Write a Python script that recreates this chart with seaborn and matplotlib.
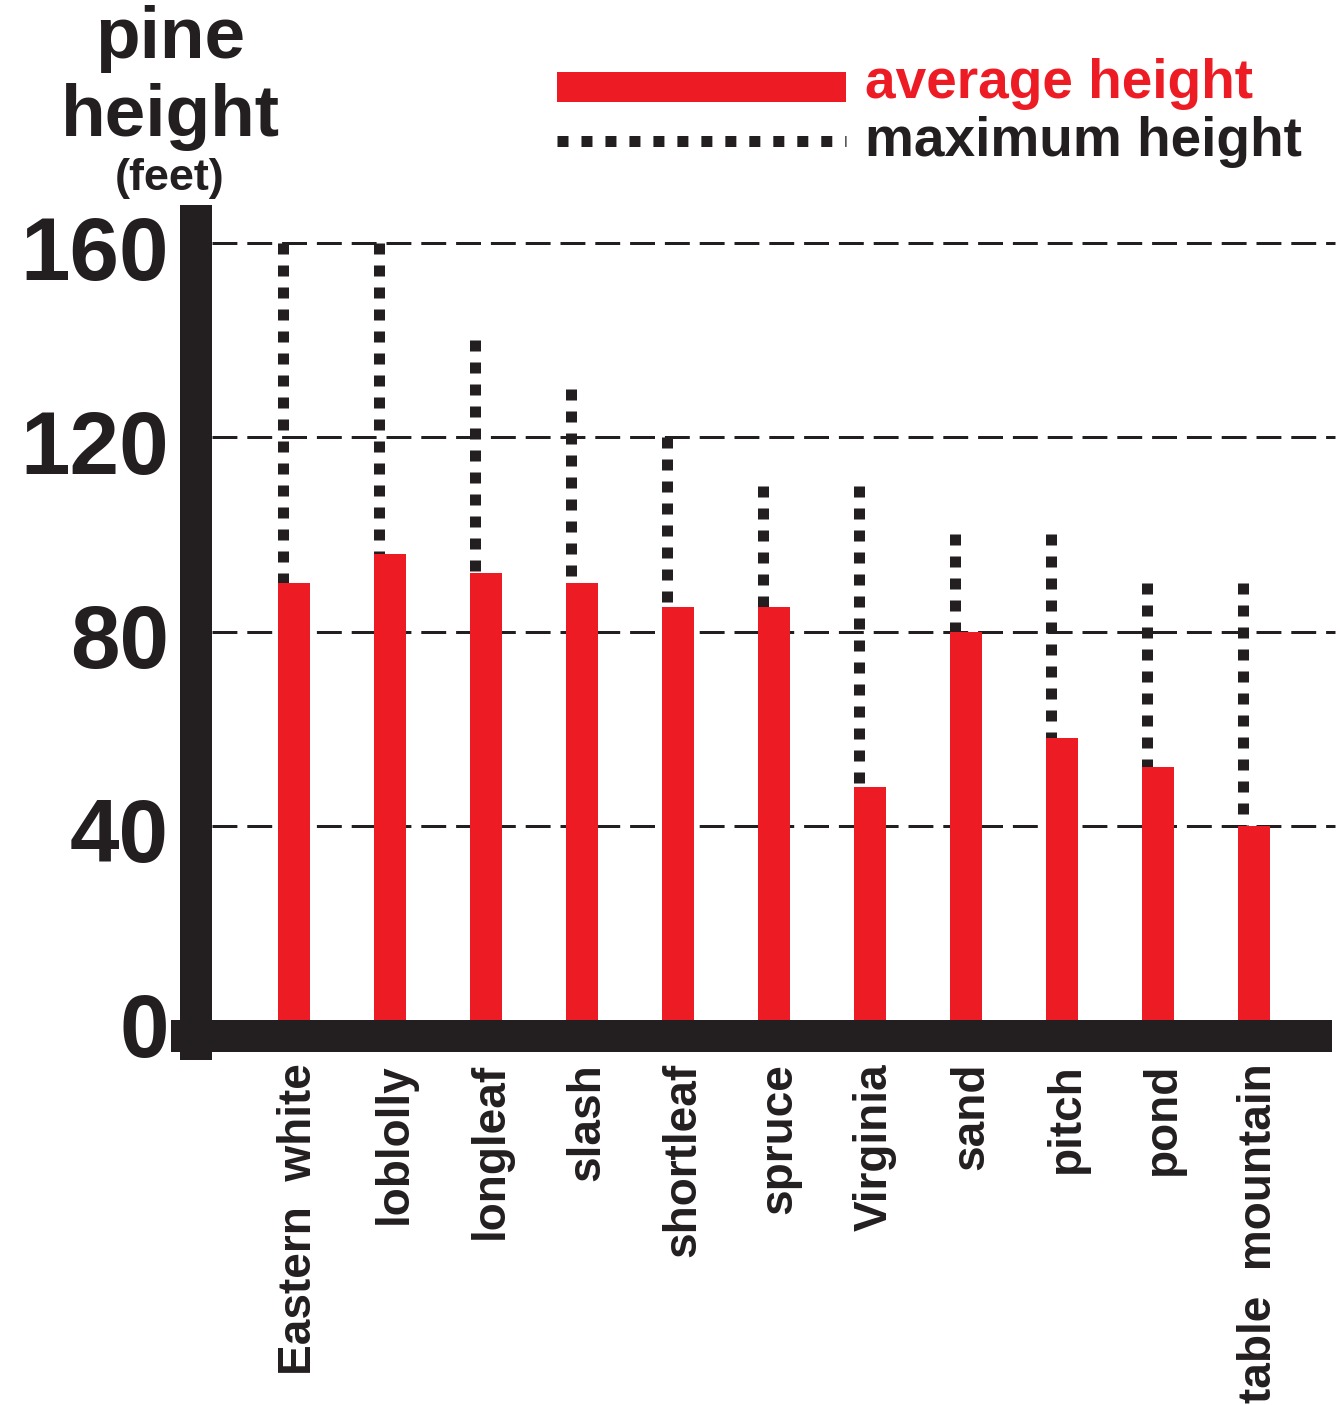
import matplotlib

matplotlib.use("Agg")

import matplotlib.pyplot as plt
import matplotlib.transforms as mtransforms
import pandas as pd
import seaborn as sns
from matplotlib.lines import Line2D

PINES = [
    "Eastern  white",
    "loblolly",
    "longleaf",
    "slash",
    "shortleaf",
    "spruce",
    "Virginia",
    "sand",
    "pitch",
    "pond",
    "table  mountain",
]
AVERAGE_HEIGHT = [90, 96, 92, 90, 85, 85, 48, 80, 58, 52, 40]
MAXIMUM_HEIGHT = [160, 160, 140, 130, 120, 110, 110, 100, 100, 90, 90]
Y_TICKS = [0, 40, 80, 120, 160]

RED = "#ED1C24"
INK = "#231F20"
W, H, DPI = 1340, 1405, 100


def pt(pixels):
    # pixel sizes -> points
    return pixels * 72 / DPI


sns.set_theme(style="white")
plt.rcParams["font.family"] = ["Liberation Sans", "DejaVu Sans"]
plt.rcParams["font.weight"] = "bold"

fig = plt.figure(figsize=(W / DPI, H / DPI), dpi=DPI)

# plot box: x from 212 to 1335 px, zero line at y=1020 px, 4.856 px per foot
PX_PER_FT = 4.856
Y_MAX = 170
BOX_W = 1335 - 212
ax = fig.add_axes(
    [212 / W, (H - 1020) / H, BOX_W / W, Y_MAX * PX_PER_FT / H]
)

df = pd.DataFrame(
    {"pine": PINES, "average": AVERAGE_HEIGHT, "maximum": MAXIMUM_HEIGHT}
)

for v in Y_TICKS[1:]:
    ax.axhline(v, color=INK, lw=pt(3), dashes=(8.3, 3.3), zorder=1, clip_on=False)

bar_w = 1 / 3
dot_w = 11 / 96
for i, row in df.iterrows():
    x = i - bar_w / 2 + dot_w / 2
    ax.plot(
        [x, x],
        [row["maximum"], row["average"]],
        color=INK,
        lw=pt(11),
        dashes=(1, 1),
        dash_capstyle="butt",
        zorder=2,
        clip_on=False,
    )

sns.barplot(
    data=df,
    x="pine",
    y="average",
    color=RED,
    saturation=1,
    width=bar_w,
    linewidth=0,
    ax=ax,
    zorder=3,
)

ax.set_xlim(-0.854, 10.844)
ax.set_ylim(0, Y_MAX)
for s in ax.spines.values():
    s.set_visible(False)

# heavy hand-drawn axes
trans = ax.get_yaxis_transform()
ax.plot(
    [-16 / BOX_W] * 2,
    [-40 / PX_PER_FT, 815 / PX_PER_FT],
    transform=trans,
    color=INK,
    lw=pt(32),
    solid_capstyle="butt",
    clip_on=False,
    zorder=5,
)
ax.plot(
    [-41 / BOX_W, 1120 / BOX_W],
    [-16 / PX_PER_FT] * 2,
    transform=trans,
    color=INK,
    lw=pt(32),
    solid_capstyle="butt",
    clip_on=False,
    zorder=5,
)

ax.set_yticks(Y_TICKS)
ax.set_yticklabels([str(t) for t in Y_TICKS], fontsize=pt(89), fontweight="bold")
ax.tick_params(axis="y", length=0, pad=pt(43), colors=INK)
ax.set_xticks(range(len(PINES)))
ax.set_xticklabels(PINES, rotation=90, fontsize=pt(46), fontweight="bold")
ax.tick_params(axis="x", length=0, pad=pt(43), colors=INK)
ax.set_xlabel("")
ax.set_ylabel("")

shift_y = mtransforms.ScaledTranslation(0, -4 / DPI, fig.dpi_scale_trans)
for lab in ax.get_yticklabels():
    lab.set_transform(lab.get_transform() + shift_y)
shift_x = mtransforms.ScaledTranslation(5 / DPI, 0, fig.dpi_scale_trans)
for lab in ax.get_xticklabels():
    lab.set_transform(lab.get_transform() + shift_x)

# axis title
fig.text(170 / W, 1 - 58 / H, "pine", ha="center", va="baseline",
         fontsize=pt(73), fontweight="bold", color=INK)
fig.text(170 / W, 1 - 136 / H, "height", ha="center", va="baseline",
         fontsize=pt(73), fontweight="bold", color=INK)
fig.text(170 / W, 1 - 190 / H, "(feet)", ha="center", va="baseline",
         fontsize=pt(45), fontweight="bold", color=INK)

# legend
fig.add_artist(Line2D([557 / W, 846 / W], [1 - 87 / H] * 2, lw=pt(30),
                      color=RED, solid_capstyle="butt"))
fig.add_artist(Line2D([557 / W, 846 / W], [1 - 141 / H] * 2, lw=pt(11),
                      color=INK, dashes=(1, 1.18), dash_capstyle="butt"))
fig.text(865 / W, 1 - 98 / H, "average height", va="baseline",
         fontsize=pt(55), fontweight="bold", color=RED)
fig.text(865 / W, 1 - 156 / H, "maximum height", va="baseline",
         fontsize=pt(55), fontweight="bold", color=INK)

fig.savefig("out.png", dpi=DPI)
plt.close(fig)
